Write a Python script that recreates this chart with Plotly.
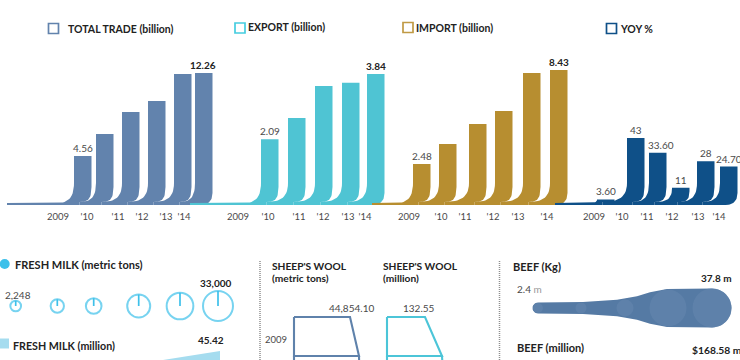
import numpy as np
import plotly.graph_objects as go

# ---------- data ----------
years = ["2009", "'10", "'11", "'12", "'13", "'14"]
total_values = [4.56, 6.59, 8.64, 9.66, 12.17, 12.26]
export_values = [1.93, 2.55, 3.49, 3.58, 3.84]
import_values = [2.56, 3.81, 5.06, 5.87, 8.24, 8.43]
yoy_values = [3.60, 43, 33.60, 11, 28, 24.70]
fresh_milk_tons = [4200, 6500, 9000, 19400, 26100, 33000]
fresh_milk_million = [43.6, 45.42]
wool_years = [2009, 2010, 2011]
wool_tons = [44854.10, 52060, 52800]
wool_million = [132.55, 191.8, 200]
beef_kg = [2.4, 3.0, 7.2, 34.0, 37.8]

# ---------- layout constants (pixels of the 740x360 frame) ----------
W, H = 740, 360
BASE = 205.0
FONT = "Lato"
DARK = "#222222"
GREY = "#4a4a4a"

panels = [
    dict(name="TOTAL TRADE (billion)", vals=total_values, color="#6283ad", ppu=132 / 12.26, tail=7,
         lefts=[74, 96, 122, 148, 174, 195], width=17.5,
         ticks=[58, 87, 118, 142, 166, 184],
         labels={0: ("4.56", 0, False), 5: ("12.26", -1, True)},
         key=(53.5, 28.5), key_color="#6283ad", key_text=(68, 29)),
    dict(name="EXPORT (billion)", vals=export_values, color="#4fc4d3", ppu=131 / 3.84, tail=190,
         lefts=[261, 288, 315, 342, 367], width=17.5,
         ticks=[238, 268, 299, 323, 348, 365],
         labels={0: ("2.09", 0, False), 4: ("3.84", 0, True)},
         key=(240, 28), key_color="#45cde0", key_text=(248, 26.5)),
    dict(name="IMPORT (billion)", vals=import_values, color="#b78e30", ppu=135 / 8.43, tail=372,
         lefts=[413, 439, 469, 495, 523, 550], width=17.5,
         ticks=[409, 441, 465, 493, 518, 547],
         labels={0: ("2.48", 0, False), 5: ("8.43", 0, True)},
         key=(408, 27.5), key_color="#c09a45", key_text=(416, 28)),
    dict(name="YOY %", vals=yoy_values, color="#0f5088", ppu=67 / 43, tail=555,
         lefts=[597, 627, 649, 672, 697, 720], width=17.5,
         ticks=[594, 622, 647, 672, 698, 719],
         labels={0: ("3.60", 0, False), 1: ("43", 0, False), 2: ("33.60", 3, False),
                 3: ("11", 0, False), 4: ("28", 0, False), 5: ("24.70", 0, False)},
         key=(611.5, 28.5), key_color="#0f5088", key_text=(620, 29)),
]


def bezier(p0, p1, p2, p3, n=16):
    t = np.linspace(0, 1, n)[:, None]
    p0, p1, p2, p3 = map(np.array, (p0, p1, p2, p3))
    return (1 - t) ** 3 * p0 + 3 * (1 - t) ** 2 * t * p1 + 3 * (1 - t) * t ** 2 * p2 + t ** 3 * p3


def foot_outline(left, width, h, tail_x, foot_x, foot_h, last):
    """Outline of a bar with a swoosh foot: (x in px, height above baseline in px)."""
    r = left + width
    lc = min(22, max(h - 0.5, 1))
    rc = min(18, h * 0.8)
    pts = [(left, h), (r, h)]
    if last:
        c = min(12, h * 0.8)
        pts += [tuple(p) for p in bezier((r, c), (r, c * 0.35), (r - c * 0.35, 0), (r - c, 0))]
    else:
        pts += [tuple(p) for p in bezier((r, rc), (r, rc * 0.3), (r - 4, 3), (r - 12, 3))]
        pts += [(r - 12, 0)]
    pts += [(tail_x, 0), (tail_x, foot_h), (foot_x, foot_h)]
    pts += [tuple(p) for p in bezier((foot_x, foot_h), ((foot_x + left) / 2 + 2, foot_h),
                                     (left, min(lc * 0.3, h)), (left, lc))]
    return np.array(pts)


fig = go.Figure()

# main y axis: the frame itself, top to bottom in pixels. Value axes overlay it.
PX = "y"
yaxes = {"yaxis": dict(domain=[0, 1], range=[H, 0], visible=False, fixedrange=True)}

# ---------- big swoosh bars, one y axis per panel ----------
for i, p in enumerate(panels):
    yname = f"y{i + 2}"
    for j, v in enumerate(p["vals"]):
        last = j == len(p["vals"]) - 1
        left = p["lefts"][j]
        if j == 0:
            tail, foot_x, foot_h = p["tail"], left - 17, 2.0
        else:
            prev_r = p["lefts"][j - 1] + p["width"]
            foot_x = prev_r - 12
            tail, foot_h = foot_x, 3.0
        o = foot_outline(left, p["width"], v * p["ppu"], tail, foot_x, foot_h, last)
        fig.add_trace(go.Scatter(x=o[:, 0], y=o[:, 1] / p["ppu"], xaxis="x", yaxis=yname,
                                 mode="lines", fill="toself", fillcolor=p["color"],
                                 line=dict(width=0, color=p["color"]),
                                 hoverinfo="skip", showlegend=False))
    yaxes[f"yaxis{i + 2}"] = dict(range=[-(H - BASE) / p["ppu"], BASE / p["ppu"]], visible=False,
                                  overlaying="y", fixedrange=True)

all_ticks = [t for p in panels for t in p["ticks"]]
all_text = years * 4


def note(x, y, text, size=9.5, bold=False, color=GREY, anchor="center"):
    fig.add_annotation(x=x, y=y, xref="x", yref=PX, text=f"<b>{text}</b>" if bold else text,
                       showarrow=False, xanchor=anchor, yanchor="middle",
                       font=dict(family=FONT, size=size, color=color), borderpad=0, borderwidth=0)


# value labels above the bars + legend keys
for i, p in enumerate(panels):
    yref = f"y{i + 2}"
    for j, (txt, dx, bold) in p["labels"].items():
        fig.add_annotation(x=p["lefts"][j] + p["width"] / 2, y=p["vals"][j], xref="x", yref=yref,
                           xshift=dx, yshift=0, yanchor="bottom", xanchor="center", showarrow=False,
                           text=f"<b>{txt}</b>" if bold else txt,
                           font=dict(family=FONT, size=10, color=DARK if bold else GREY))
    fig.add_trace(go.Scatter(x=[p["key"][0]], y=[p["key"][1]], xaxis="x", yaxis=PX, mode="markers",
                             marker=dict(symbol="square-open", size=10, color=p["key_color"],
                                         line=dict(width=1.7, color=p["key_color"])),
                             hoverinfo="skip", showlegend=False))
    note(p["key_text"][0], p["key_text"][1], p["name"], size=10.5, bold=True, color=DARK, anchor="left")

# ---------- fresh milk: rings ----------
MILK = "#3dc0ea"
milk_x = [15.7, 57.3, 93.7, 138.7, 180, 218]
milk_y = 306
milk_ref = 2 * max(fresh_milk_tons) / 30 ** 2
fig.add_trace(go.Scatter(x=milk_x, y=[milk_y] * 6, xaxis="x", yaxis=PX, mode="markers",
                         marker=dict(symbol="circle-open", size=fresh_milk_tons, sizemode="area", sizeref=milk_ref,
                                     color=MILK, line=dict(width=2, color=MILK)),
                         hoverinfo="skip", showlegend=False))
for x, v in zip(milk_x, fresh_milk_tons):
    d = np.sqrt(2 * v / milk_ref)
    fig.add_trace(go.Scatter(x=[x, x], y=[milk_y, milk_y - d / 2], xaxis="x", yaxis=PX, mode="lines",
                             line=dict(width=1.7, color=MILK), hoverinfo="skip", showlegend=False))
fig.add_trace(go.Scatter(x=[4.7], y=[264], xaxis="x", yaxis=PX, mode="markers",
                         marker=dict(size=10, color=MILK), hoverinfo="skip", showlegend=False))
fig.add_trace(go.Scatter(x=[4], y=[343.5], xaxis="x", yaxis=PX, mode="markers",
                         marker=dict(symbol="square", size=10, color="#a5dcef"), hoverinfo="skip", showlegend=False))
note(15, 264, "FRESH MILK (metric tons)", size=11, bold=True, color=DARK, anchor="left")
note(13, 345, "FRESH MILK (million)", size=10.7, bold=True, color=DARK, anchor="left")
note(18, 295, "2,248", size=10)
note(216, 283, "33,000", size=10, bold=True, color=DARK)
note(211, 340, "45.42", size=10, bold=True, color=DARK)

# fresh milk million wedge: own value axis (only the top of it is on the page)
wedge_x = [163, 220]
k = (fresh_milk_million[1] - fresh_milk_million[0]) / 9
yaxes["yaxis6"] = dict(range=[fresh_milk_million[0], fresh_milk_million[1] + 351 * k],
                       visible=False, overlaying="y", fixedrange=True)
fig.add_trace(go.Scatter(x=wedge_x + [220], y=fresh_milk_million + [fresh_milk_million[0]], xaxis="x", yaxis="y6",
                         mode="lines", fill="toself", fillcolor="#a5dcef", line=dict(width=0),
                         hoverinfo="skip", showlegend=False))

# ---------- sheep's wool: outlined steps on their own value axes ----------
yaxes["yaxis7"] = dict(range=[2009 + 43 / 39, 2009 - 317 / 39], visible=False, overlaying="y", fixedrange=True)
wool_axes = {}
for ax, left, vals, px_w, color in (("x2", 294, wool_tons, 56, "#5f82ab"), ("x3", 387, wool_million, 38, "#4cc5d8")):
    u = vals[0] / px_w
    wool_axes["xaxis" + ax[1:]] = dict(range=[-left * u, (W - left) * u], visible=False, overlaying="x",
                                       fixedrange=True)
    for a in range(2):
        fig.add_trace(go.Scatter(x=[0, vals[a], vals[a + 1], 0, 0],
                                 y=[wool_years[a], wool_years[a], wool_years[a + 1], wool_years[a + 1], wool_years[a]],
                                 xaxis=ax, yaxis="y7", mode="lines", line=dict(width=2.1, color=color),
                                 hoverinfo="skip", showlegend=False))
note(272, 266, "SHEEP'S WOOL", size=10.2, bold=True, color=DARK, anchor="left")
note(272, 278, "(metric tons)", size=10.2, bold=True, color=DARK, anchor="left")
note(383, 266, "SHEEP'S WOOL", size=10.2, bold=True, color=DARK, anchor="left")
note(383, 278, "(million)", size=10.2, bold=True, color=DARK, anchor="left")
note(351, 308, "44,854.10", size=10)
note(419, 308, "132.55", size=10)
note(276, 339, "2009", size=9.5)

# ---------- beef: band with lighter discs ----------
beef_x = [538, 581, 625, 668, 712]
beef_y = 308
beef_ref = 2 * max(beef_kg) / 39 ** 2
radii = [np.sqrt(2 * v / beef_ref) / 2 for v in beef_kg]
env_x = [538, 583, 617, 637, 650, 667, beef_x[4]]
env_r = [5.5, 6, 8.3, 11.7, 15.7, 19, radii[4]]
th = np.linspace(-np.pi / 2, np.pi / 2, 25)
top_x = env_x + list(beef_x[4] + radii[4] * np.cos(th))
top_y = [beef_y - r for r in env_r] + list(beef_y + radii[4] * np.sin(th))
bot_x = env_x[::-1]
bot_y = [beef_y + r for r in env_r[::-1]]
th2 = np.linspace(np.pi / 2, 3 * np.pi / 2, 15)
band_x = top_x + bot_x + list(beef_x[0] + env_r[0] * np.cos(th2))
band_y = top_y + bot_y + list(beef_y + env_r[0] * np.sin(th2))
fig.add_trace(go.Scatter(x=band_x, y=band_y, xaxis="x", yaxis=PX, mode="lines", fill="toself",
                         fillcolor="#557aa4", line=dict(width=0), hoverinfo="skip", showlegend=False))
fig.add_trace(go.Scatter(x=beef_x, y=[beef_y] * 5, xaxis="x", yaxis=PX, mode="markers",
                         marker=dict(size=beef_kg, sizemode="area", sizeref=beef_ref, color="#6285ad",
                                     line=dict(width=0)),
                         hoverinfo="skip", showlegend=False))
note(513, 266, "BEEF (Kg)", size=11, bold=True, color=DARK, anchor="left")
note(529, 289, '2.4 <span style="color:#999999">m</span>', size=10)
note(716, 278, "37.8 m", size=10, bold=True, color=DARK)
note(517, 347, "BEEF (million)", size=11, bold=True, color=DARK, anchor="left")
note(692, 350, "$168.58 m", size=10.3, bold=True, color=DARK, anchor="left")

# dotted separators
for sx in (260, 499.5):
    fig.add_shape(type="line", x0=sx, x1=sx, y0=261, y1=360, xref="x", yref="y",
                  line=dict(color="#8f8f8f", width=1.5, dash="1px,1px"))

fig.update_layout(
    width=W, height=H, autosize=False, margin=dict(l=0, r=0, t=0, b=0),
    plot_bgcolor="white", paper_bgcolor="white", showlegend=False,
    font=dict(family=FONT),
    xaxis=dict(domain=[0, 1], range=[0, W], anchor="free", position=(H - BASE) / H, tickmode="array",
               tickvals=all_ticks, ticktext=all_text,
               ticks="outside", ticklen=3, tickcolor="rgba(0,0,0,0)", showgrid=False, zeroline=False, showline=False,
               tickfont=dict(family=FONT, size=9.5, color=GREY), tickangle=0, fixedrange=True),
    **yaxes, **wool_axes,
)
fig.write_html("out.html", post_script="document.body.style.margin='0';document.body.style.overflow='hidden';",
               config=dict(displayModeBar=False))
